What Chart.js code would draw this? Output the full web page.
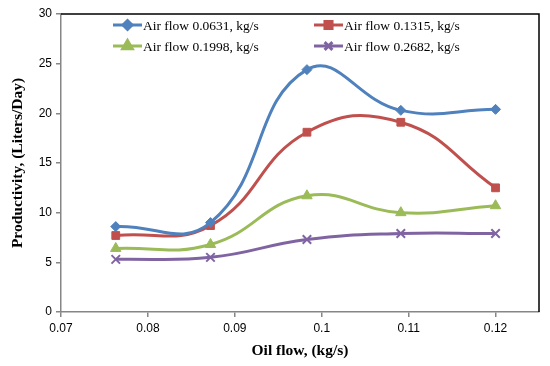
<!DOCTYPE html>
<html>
<head>
<meta charset="utf-8">
<script src="https://cdn.jsdelivr.net/npm/chart.js@4/dist/chart.umd.min.js"></script>
<style>
  html, body { margin: 0; padding: 0; background: #fff; }
  #wrap { width: 550px; height: 366px; position: relative; }
</style>
</head>
<body>
<div id="wrap"><canvas id="chart" width="550" height="366"></canvas></div>
<script>
// oil flow (kg/s) on x
const oilFlow = [0.0763, 0.0872, 0.0983, 0.1091, 0.1200];

// productivity (Liters/Day) per air flow
const air0631 = [8.6, 9.0, 24.4, 20.3, 20.4];
const air1315 = [7.7, 8.7, 18.1, 19.1, 12.5];
const air1998 = [6.4, 6.8, 11.7, 10.0, 10.7];
const air2682 = [5.3, 5.5, 7.3, 7.9, 7.9];

const seriesLabels = [
    'Air flow 0.0631, kg/s',
    'Air flow 0.1315, kg/s',
    'Air flow 0.1998, kg/s',
    'Air flow 0.2682, kg/s'
];
const seriesValues = [air0631, air1315, air1998, air2682];
const seriesColors = ['#4F81BD', '#C0504D', '#9BBB59', '#8064A2'];
const seriesMarkers = ['rectRot', 'rect', 'triangle', 'crossRot'];
const markerSizes = [5, 5.5, 6, 6];

function toPoints(values) {
    return values.map((v, i) => ({ x: oilFlow[i], y: v }));
}

// legend drawn inside the plot, line + marker like Excel
const insideLegend = {
    id: 'insideLegend',
    afterDraw(chart) {
        const ctx = chart.ctx;
        const colX = [113, 314];
        const rowY = [25, 46];
        chart.data.datasets.forEach((ds, i) => {
            const x0 = colX[i % 2];
            const y = rowY[Math.floor(i / 2)];
            ctx.save();
            ctx.strokeStyle = ds.borderColor;
            ctx.fillStyle = ds.borderColor;
            ctx.lineWidth = 3;
            ctx.beginPath();
            ctx.moveTo(x0, y);
            ctx.lineTo(x0 + 29, y);
            ctx.stroke();
            Chart.helpers.drawPoint(ctx, {
                pointStyle: ds.pointStyle,
                radius: ds.pointRadius - 0.5,
                rotation: 0,
                borderWidth: ds.pointStyle === 'crossRot' ? 2 : 1
            }, x0 + 14.5, y);
            ctx.fillStyle = '#000';
            ctx.font = '13.5px "Liberation Serif", "Times New Roman", serif';
            ctx.textBaseline = 'middle';
            ctx.textAlign = 'left';
            ctx.fillText(ds.label, x0 + 30, y + 1);
            ctx.restore();
        });
    }
};

// black frame on top and right of plot area
const plotFrame = {
    id: 'plotFrame',
    beforeDatasetsDraw(chart) {
        const a = chart.chartArea;
        const ctx = chart.ctx;
        ctx.save();
        ctx.strokeStyle = '#000';
        ctx.lineWidth = 1.5;
        ctx.beginPath();
        ctx.moveTo(a.left, a.top);
        ctx.lineTo(a.right, a.top);
        ctx.lineTo(a.right, a.bottom);
        ctx.stroke();
        ctx.restore();
    }
};

const ctx = document.getElementById('chart').getContext('2d');
new Chart(ctx, {
    type: 'line',
    data: {
        datasets: seriesValues.map((vals, i) => ({
            label: seriesLabels[i],
            data: toPoints(vals),
            borderColor: seriesColors[i],
            backgroundColor: seriesColors[i],
            borderWidth: 3,
            pointStyle: seriesMarkers[i],
            pointRadius: markerSizes[i],
            pointBorderWidth: seriesMarkers[i] === 'crossRot' ? 2 : 1,
            tension: 0.45,
            fill: false
        }))
    },
    options: {
        responsive: false,
        animation: false,
        layout: { padding: { top: 14, right: 11, left: 0, bottom: 0 } },
        plugins: {
            legend: { display: false },
            tooltip: { enabled: false }
        },
        scales: {
            x: {
                type: 'linear',
                min: 0.07,
                max: 0.125,
                afterFit(scale) { scale.height = 54; },
                ticks: {
                    stepSize: 0.01,
                    includeBounds: false,
                    color: '#000',
                    padding: 4,
                    maxRotation: 0,
                    font: { family: '"Liberation Sans", Arial, sans-serif', size: 12 },
                    callback: v => String(Number(v.toFixed(2)))
                },
                grid: { drawOnChartArea: false, drawTicks: true, tickLength: 5, color: '#868686', lineWidth: 1.5 },
                border: { color: '#868686', width: 1.5 },
                title: {
                    display: true,
                    text: 'Oil flow, (kg/s)',
                    color: '#000',
                    padding: { top: 2, bottom: 6 },
                    font: { family: '"Liberation Serif", "Times New Roman", serif', size: 15.5, weight: 'bold' }
                }
            },
            y: {
                min: 0,
                max: 30,
                afterFit(scale) { scale.width = 61; },
                ticks: {
                    stepSize: 5,
                    color: '#000',
                    padding: 4,
                    font: { family: '"Liberation Sans", Arial, sans-serif', size: 12 }
                },
                grid: { drawOnChartArea: false, drawTicks: true, tickLength: 5, color: '#868686', lineWidth: 1.5 },
                border: { color: '#868686', width: 1.5 },
                title: {
                    display: true,
                    text: 'Productivity, (Liters/Day)',
                    color: '#000',
                    padding: { top: 9, bottom: 4 },
                    font: { family: '"Liberation Serif", "Times New Roman", serif', size: 15.5, weight: 'bold' }
                }
            }
        }
    },
    plugins: [plotFrame, insideLegend]
});
</script>
</body>
</html>
